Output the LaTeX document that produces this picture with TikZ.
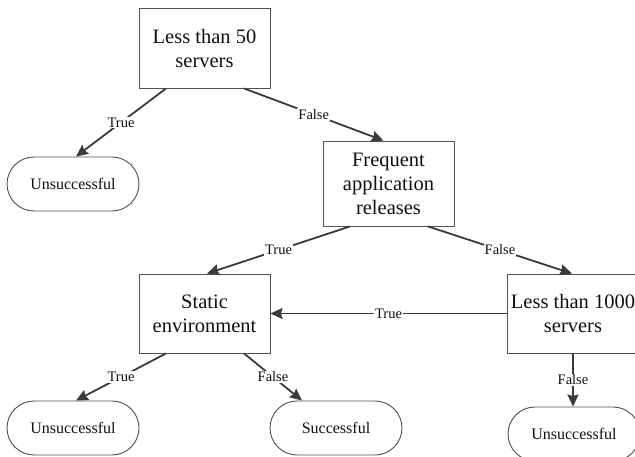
\documentclass[tikz,border=0pt]{standalone}
\usepackage{fontspec}
\setmainfont{Liberation Serif}
\usetikzlibrary{arrows.meta}
\definecolor{edgecol}{HTML}{3A3A3A}
\definecolor{boxcol}{HTML}{505050}
\definecolor{txtcol}{HTML}{101010}
\begin{document}
\begin{tikzpicture}[x=1pt,y=-1pt,
  decbox/.style={draw=boxcol, line width=0.9pt, minimum width=131pt, inner sep=0pt,
    align=center, text=txtcol, font=\fontsize{20.5}{24}\selectfont},
  term/.style={draw=boxcol, line width=0.9pt, rounded corners=27pt, minimum width=132pt,
    minimum height=54pt, inner sep=0pt, text=txtcol, font=\fontsize{16}{19}\selectfont},
  conn/.style={draw=edgecol, line width=1.8pt, -{Stealth[length=12pt,width=11pt,inset=1.5pt]}},
  lbl/.style={fill=white, inner sep=1pt, text=txtcol, font=\fontsize{14.5}{17}\selectfont}]
\useasboundingbox (0,0) rectangle (635,457);

\node[decbox, minimum height=80pt] (b1) at (204.5,48) {Less than 50\\servers};
\node[term] (u1) at (73,184) {Unsuccessful};
\node[decbox, minimum height=85pt] (fr) at (388.5,183.5) {Frequent\\application\\releases};
\node[decbox, minimum height=79pt] (st) at (204.5,313.5) {Static\\environment};
\node[decbox, minimum height=79pt, minimum width=132pt] (lt) at (573,313.5) {Less than 1000\\servers};
\node[term] (u2) at (73,428) {Unsuccessful};
\node[term] (sc) at (336,428) {Successful};
\node[term] (u3) at (574,434) {Unsuccessful};

\draw[conn] ([xshift=-38.5pt]b1.south) -- node[lbl]{True} ([xshift=3pt]u1.north);
\draw[conn] ([xshift=39.5pt]b1.south) -- node[lbl]{False} ([xshift=-5pt]fr.north);
\draw[conn] ([xshift=-38.5pt]fr.south) -- node[lbl]{True} ([xshift=2.5pt]st.north);
\draw[conn] ([xshift=39.5pt]fr.south) -- node[lbl]{False} ([xshift=-1pt]lt.north);
\draw[conn] (lt.west) -- node[lbl]{True} (st.east);
\draw[conn] ([xshift=-38.5pt]st.south) -- node[lbl]{True} ([xshift=3pt]u2.north);
\draw[conn] ([xshift=39.5pt]st.south) -- node[lbl]{False} ([xshift=-34pt]sc.north);
\draw[conn] (lt.south) -- node[lbl]{False} ([xshift=-1pt]u3.north);
\end{tikzpicture}
\end{document}
